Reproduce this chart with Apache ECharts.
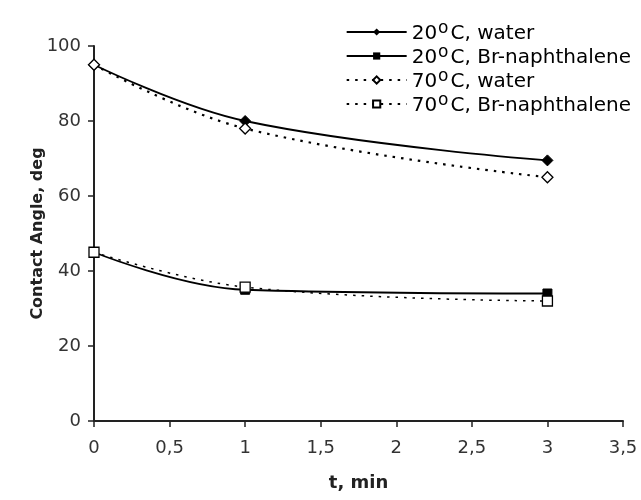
<!DOCTYPE html>
<html>
<head>
<meta charset="utf-8">
<script src="https://cdn.jsdelivr.net/npm/echarts@6/dist/echarts.min.js"></script>
<style>
  html, body { margin: 0; padding: 0; background: #fff; }
  #chart { width: 641px; height: 500px; }
</style>
</head>
<body>
<div id="chart"></div>
<script>
// 数据
const times = [0, 1, 3];
const water20 = [95, 80, 69.5];
const brn20 = [45, 35, 34];
const water70 = [95, 78, 65];
const brn70 = [45, 35.7, 32];
const seriesNames = ['20°C, water', '20°C, Br-naphthalene', '70°C, water', '70°C, Br-naphthalene'];

document.addEventListener('DOMContentLoaded', function() {
    let chart = echarts.init(document.getElementById('chart'));

    function pairs(vals) {
        return times.map((t, i) => [t, vals[i]]);
    }

    // 图例中的上标 o
    function legendLabel(name) {
        const parts = name.split('°');
        return '{n|' + parts[0] + '}{s|o}{n|' + parts[1] + '}';
    }

    const fontFamily = 'DejaVu Sans, Arial, sans-serif';

    chart.setOption({
        animation: false,
        textStyle: { fontFamily: fontFamily },
        grid: { left: 94, right: 18, top: 46, bottom: 79 },
        legend: {
            orient: 'vertical',
            right: 5,
            top: 15,
            itemGap: 0,
            itemWidth: 60,
            itemHeight: 9,
            data: seriesNames,
            formatter: legendLabel,
            textStyle: {
                color: '#000',
                rich: {
                    n: { fontSize: 20, lineHeight: 24, verticalAlign: 'bottom', fontFamily: fontFamily, color: '#000' },
                    s: { fontSize: 17, lineHeight: 24, verticalAlign: 'top', padding: [0, 2, 0, 1], fontFamily: fontFamily, color: '#000' }
                }
            }
        },
        xAxis: {
            type: 'value',
            min: 0,
            max: 3.5,
            interval: 0.5,
            name: 't, min',
            nameLocation: 'middle',
            nameGap: 53,
            nameMoveOverlap: false,
            nameTextStyle: { fontSize: 18, fontWeight: 'bold', color: '#222' },
            splitLine: { show: false },
            axisLine: { lineStyle: { color: '#222', width: 2 } },
            axisTick: { show: true, length: 6, lineStyle: { color: '#222', width: 1.5 } },
            axisLabel: {
                fontSize: 18,
                color: '#333',
                margin: 18,
                formatter: v => String(v).replace('.', ',')
            }
        },
        yAxis: {
            type: 'value',
            min: 0,
            max: 100,
            interval: 20,
            name: 'Contact Angle, deg',
            nameLocation: 'middle',
            nameGap: 48,
            nameMoveOverlap: false,
            nameTextStyle: { fontSize: 16, fontWeight: 'bold', color: '#222' },
            splitLine: { show: false },
            axisLine: { show: true, lineStyle: { color: '#222', width: 2 } },
            axisTick: { show: true, length: 6, lineStyle: { color: '#222', width: 1.5 } },
            axisLabel: { fontSize: 18, color: '#333', margin: 13 }
        },
        series: [
            {
                name: seriesNames[0],
                type: 'line',
                data: pairs(water20),
                smooth: 0.4,
                symbol: 'diamond',
                symbolSize: 11,
                lineStyle: { color: '#000', width: 1.8 },
                itemStyle: { color: '#000', borderColor: '#000' }
            },
            {
                name: seriesNames[1],
                type: 'line',
                data: pairs(brn20),
                smooth: 0.4,
                symbol: 'rect',
                symbolSize: 9,
                lineStyle: { color: '#000', width: 1.8 },
                itemStyle: { color: '#000', borderColor: '#000' }
            },
            {
                name: seriesNames[2],
                type: 'line',
                data: pairs(water70),
                smooth: 0.4,
                symbol: 'diamond',
                symbolSize: 11,
                lineStyle: { color: '#000', width: 2.2, type: [2.5, 6] },
                itemStyle: { color: '#fff', borderColor: '#000', borderWidth: 1.3 }
            },
            {
                name: seriesNames[3],
                type: 'line',
                data: pairs(brn70),
                smooth: 0.4,
                symbol: 'rect',
                symbolSize: 10,
                lineStyle: { color: '#000', width: 1.5, type: [2.5, 6] },
                itemStyle: { color: '#fff', borderColor: '#000', borderWidth: 1.3 }
            }
        ]
    });
});
</script>
</body>
</html>
